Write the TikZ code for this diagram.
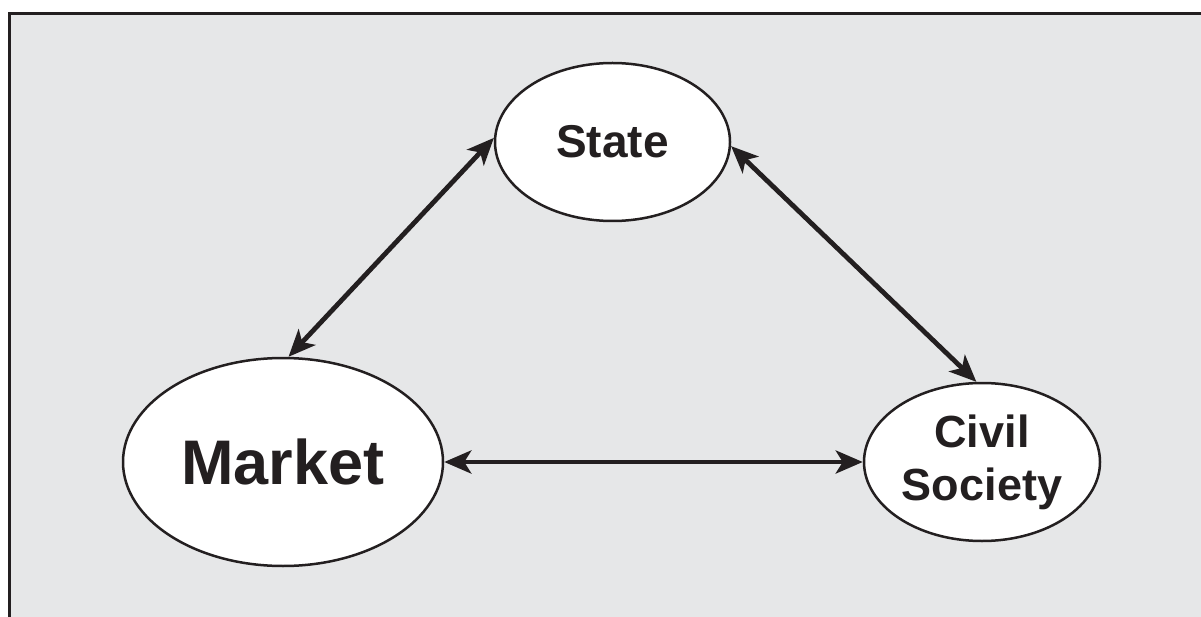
\documentclass[tikz,border=0pt]{standalone}
\usepackage{fontspec}
\setmainfont{Liberation Sans}
\usetikzlibrary{shapes.geometric,arrows.meta}
\definecolor{ink}{HTML}{231F20}
\definecolor{panel}{HTML}{E6E7E8}
\begin{document}
\begin{tikzpicture}[x=1pt,y=-1pt,
  bubble/.style={ellipse,draw=ink,line width=2.5pt,fill=white,inner sep=0pt,text=ink,align=center},
  link/.style={draw=ink,line width=4.8pt,
    {Stealth[length=27pt,width=23pt,inset=7pt]}-{Stealth[length=27pt,width=23pt,inset=7pt]}}]
\useasboundingbox (0,0) rectangle (1201,617);
\fill[panel] (9,14) rectangle (1201,617);
\draw[ink,line width=3pt] (9,617) -- (9,14) -- (1201,14);
\node[bubble,minimum width=235pt,minimum height=158pt,
  font=\bfseries\fontsize{46}{46}\selectfont] (state) at (612.5,142) {State};
\node[bubble,minimum width=320pt,minimum height=208pt,
  font=\bfseries\fontsize{63}{63}\selectfont] (market) at (283,462) {Market};
\node[bubble,minimum width=236pt,minimum height=158pt,
  font=\bfseries\fontsize{45}{53}\selectfont] (civil) at (982,462) {Civil\\Society};
\draw[link] (state.178) -- (market.87);
\draw[link] (state.-2) -- (civil.94);
\draw[link] (market.east) -- (civil.west);
\end{tikzpicture}
\end{document}
